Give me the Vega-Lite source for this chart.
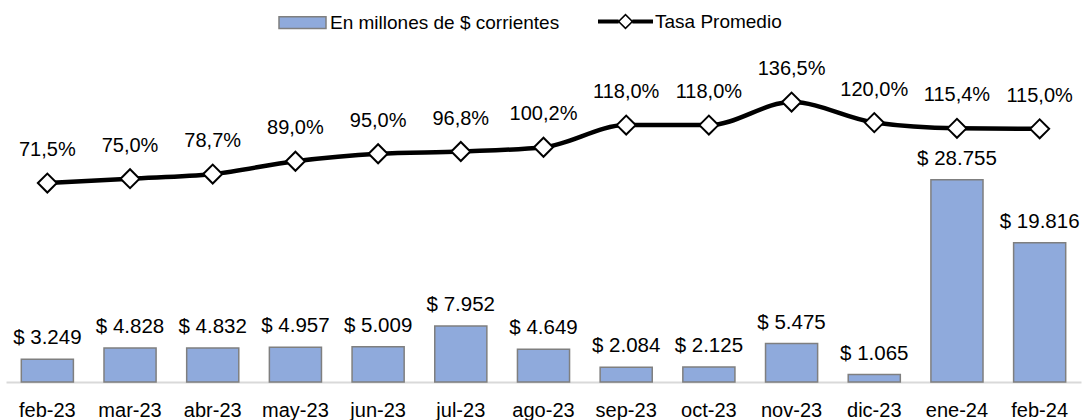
{
  "$schema": "https://vega.github.io/schema/vega-lite/v6.json",
  "width": 1075,
  "height": 342,
  "autosize": {"type": "none"},
  "padding": {"left": 6, "top": 40, "right": 6, "bottom": 38},
  "background": "white",
  "config": {
    "view": {"stroke": null},
    "font": "Liberation Sans",
    "locale": {"number": {"decimal": ",", "thousands": ".", "grouping": [3], "currency": ["$ ", ""]}}
  },
  "data": {"values": [
    {"mes": "feb-23", "monto": 3249, "tasa": 0.715},
    {"mes": "mar-23", "monto": 4828, "tasa": 0.75},
    {"mes": "abr-23", "monto": 4832, "tasa": 0.787},
    {"mes": "may-23", "monto": 4957, "tasa": 0.89},
    {"mes": "jun-23", "monto": 5009, "tasa": 0.95},
    {"mes": "jul-23", "monto": 7952, "tasa": 0.968},
    {"mes": "ago-23", "monto": 4649, "tasa": 1.002},
    {"mes": "sep-23", "monto": 2084, "tasa": 1.18},
    {"mes": "oct-23", "monto": 2125, "tasa": 1.18},
    {"mes": "nov-23", "monto": 5475, "tasa": 1.365},
    {"mes": "dic-23", "monto": 1065, "tasa": 1.20},
    {"mes": "ene-24", "monto": 28755, "tasa": 1.154},
    {"mes": "feb-24", "monto": 19816, "tasa": 1.15}
  ]},
  "encoding": {
    "x": {
      "field": "mes", "type": "ordinal", "sort": null,
      "scale": {"paddingInner": 0.37, "paddingOuter": 0.185},
      "axis": {"title": null, "labelAngle": 0, "ticks": false, "labelFontSize": 20, "labelColor": "#000", "labelPadding": 18, "domainColor": "#d9d9d9", "domainWidth": 2, "labelFont": "Liberation Sans"}
    }
  },
  "layer": [
    {
      "mark": {"type": "bar", "stroke": "#7f7f7f", "strokeWidth": 1.5},
      "encoding": {
        "y": {"field": "monto", "type": "quantitative", "scale": {"domain": [0, 48650]}, "axis": null},
        "fill": {"datum": "En millones de $ corrientes", "type": "nominal",
          "scale": {"range": ["#8FAADC"]},
          "legend": {"title": null, "orient": "none", "legendX": 272, "legendY": -42,
            "symbolType": "M-1,-0.25H1V0.25H-1Z", "symbolSize": 2209, "labelFontSize": 19, "labelColor": "#000", "labelOffset": 3, "labelLimit": 400,
            "symbolStrokeColor": "#7f7f7f", "symbolStrokeWidth": 1.5, "symbolOpacity": 1}
        }
      }
    },
    {
      "mark": {"type": "text", "baseline": "alphabetic", "dy": -15, "fontSize": 20.5, "color": "#000"},
      "encoding": {
        "y": {"field": "monto", "type": "quantitative", "scale": {"domain": [0, 48650]}, "axis": null},
        "text": {"field": "monto", "type": "quantitative", "format": "$,.0f"}
      }
    },
    {
      "mark": {"type": "line", "strokeWidth": 4.5, "interpolate": "monotone"},
      "encoding": {
        "y": {"field": "tasa", "type": "quantitative", "scale": {"domain": [-0.882, 1.863]}, "axis": null},
        "stroke": {"datum": "Tasa Promedio", "type": "nominal",
          "scale": {"range": ["#000000"]},
          "legend": {"title": null, "orient": "none", "legendX": 592, "legendY": -46,
            "symbolType": "M-1,-0.075H-0.25V0.075H-1ZM0.25,-0.075H1V0.075H0.25ZM-0.29,0L0,-0.29L0.29,0L0,0.29ZM-0.21,0L0,0.21L0.21,0L0,-0.21Z",
            "symbolSize": 3025, "labelFontSize": 19, "labelColor": "#000", "labelOffset": 2, "labelLimit": 400,
            "symbolFillColor": "#000", "symbolStrokeWidth": 0,
            "encode": {"symbols": {"update": {"fill": {"value": "#000"}, "strokeWidth": {"value": 0}, "opacity": {"value": 1}}}}}
        }
      }
    },
    {
      "mark": {"type": "point", "shape": "diamond", "size": 360, "filled": true, "fill": "white", "stroke": "#000", "strokeWidth": 2, "opacity": 1},
      "encoding": {
        "y": {"field": "tasa", "type": "quantitative", "scale": {"domain": [-0.882, 1.863]}, "axis": null}
      }
    },
    {
      "mark": {"type": "text", "baseline": "alphabetic", "dy": -27, "fontSize": 20, "color": "#000"},
      "encoding": {
        "y": {"field": "tasa", "type": "quantitative", "scale": {"domain": [-0.882, 1.863]}, "axis": null},
        "text": {"field": "tasa", "type": "quantitative", "format": ".1%"}
      }
    }
  ],
  "resolve": {"scale": {"y": "independent"}}
}
